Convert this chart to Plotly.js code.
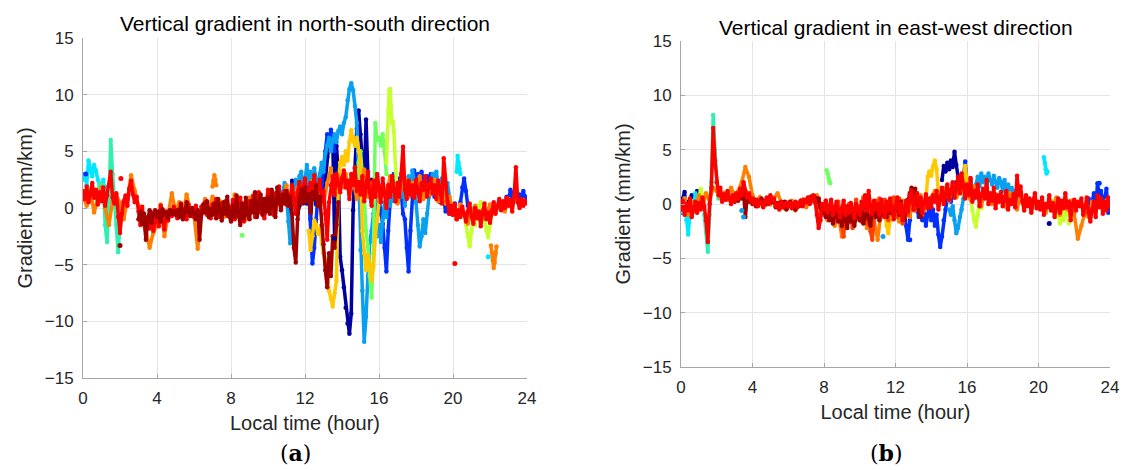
<!DOCTYPE html>
<html>
<head>
<meta charset="utf-8">
<script src="https://cdn.plot.ly/plotly-3.0.1.min.js"></script>
<style>html,body{margin:0;padding:0;background:#fff;}#chart{width:1123px;height:470px;}</style>
</head>
<body>
<div id="chart"></div>
<script>
// ---------- colours (jet colormap, one per day) ----------
const NAVY = '#0000A0', BLUE = '#0030FF', LBLUE = '#0AA0F0', CYAN = '#00E8FF', AQUA = '#30F0B0',
      GREEN = '#70FF60', YGREEN = '#C8FF30', GOLD = '#FFC800', ORANGE = '#FF8000', RORANGE = '#FF4000',
      RED = '#FF0000', DRED = '#A00000';

// ---------- axis ticks ----------
const xTicks = [0, 4, 8, 12, 16, 20, 24];
const yTicks = [-15, -10, -5, 0, 5, 10, 15];

// ================= (a) north-south =================
// red day, 0..24 h every 0.1 h
const nsRedY = [
 1.5,0.8,1.9,0.5,1.2,2.2,0.9,1.6,0.3,1.4,
 0.6,1.8,0.2,1.1,2.0,3.2,0.9,0.4,1.3,-0.8,
 -2.2,-0.5,0.6,1.1,0.2,1.7,2.4,1.2,0.5,1.0,
 -0.3,-1.5,0.1,-1.0,-2.3,-0.8,-1.8,-0.4,-2.0,-1.2,
 -0.5,-1.6,0.2,-0.9,-1.9,-0.3,-1.1,-0.2,-0.7,0.1,
 -0.4,-0.9,-0.2,0.4,-0.6,-0.1,-1.0,0.3,-0.5,-0.2,
 -0.8,0.2,-0.4,-1.5,0.1,-0.3,0.5,-0.6,0.0,-0.9,
 0.3,-0.5,0.8,-0.2,-0.8,0.4,-0.3,0.6,-0.7,0.1,
 -0.4,0.7,-1.0,0.2,-0.6,0.9,-0.3,-1.2,0.4,-0.5,
 0.6,-0.2,1.1,-0.8,0.3,1.4,-0.4,0.8,-0.9,0.5,
 1.6,0.2,1.0,-0.6,1.3,0.4,1.9,0.1,0.9,1.5,
 0.3,1.2,0.6,2.0,0.8,-0.5,1.4,2.3,1.0,1.8,
 2.6,1.2,0.8,2.2,1.5,2.9,1.0,1.8,2.5,0.6,
 1.5,-0.5,-2.8,0.5,2.0,2.8,1.2,3.0,2.2,1.4,
 2.6,3.3,1.8,2.4,0.8,3.0,2.0,3.6,1.5,2.3,
 1.2,2.8,0.6,2.0,3.2,1.4,0.2,2.4,1.0,3.0,
 1.8,0.5,2.6,1.2,0.0,2.0,1.0,2.8,1.5,0.6,
 2.2,1.0,3.0,5.4,1.6,0.8,2.4,1.2,2.0,0.9,
 2.5,1.4,0.6,2.2,1.6,2.8,1.0,1.9,2.6,1.3,
 2.0,0.8,2.4,1.5,0.4,4.4,2.0,0.6,-0.5,0.2,
 -0.6,0.3,-1.0,-0.2,-0.8,0.1,-0.5,-1.2,-0.3,0.4,
 -0.7,-1.4,0.0,-0.9,-0.3,-1.6,-0.5,0.4,-1.0,-0.4,
 -1.3,-0.2,0.5,-0.5,0.2,0.8,-0.2,0.6,0.0,0.9,
 0.2,0.7,-0.3,1.0,3.6,0.5,0.0,0.8,0.2,0.6,
 0.4];
// dark red day, 3.0..13.8 h every 0.1 h
const nsDarkRedY = [
 -1.0,-0.3,-1.4,-0.5,-2.8,-1.0,-0.2,-1.3,-0.6,-0.2,
 -0.8,-0.3,-1.2,-0.1,-0.6,-0.4,-0.9,-0.2,-0.5,-0.3,
 -0.6,-0.2,-0.8,0.3,-1.0,-0.4,0.5,-0.3,-0.7,0.0,
 -0.5,-1.0,-0.2,-2.8,-0.6,0.3,-0.4,0.6,-0.8,-0.1,
 -0.6,0.4,-0.9,0.8,-0.3,-1.1,0.5,-0.5,1.0,-0.7,
 -1.2,0.2,-0.8,1.1,-0.5,-1.5,0.4,-0.9,0.9,-0.6,
 -1.0,0.6,-0.4,1.4,-0.8,0.2,1.2,-0.6,0.8,-0.3,
 0.9,-0.5,1.6,0.3,-0.8,1.8,0.5,-0.2,1.2,0.4,
 1.5,0.2,1.0,-0.5,-3.5,-4.8,-1.0,0.8,1.6,0.4,
 1.8,0.6,1.2,-0.4,1.4,0.8,2.0,0.2,1.0,-1.5,
 -3.2,-5.5,-7.0,-4.0,-6.0,-2.5,-3.5,-1.5,0.5];
// orange day, 0..24 h every 0.2 h
const nsOrangeY = [
 1.0,0.2,1.6,-0.4,0.8,1.8,0.0,-1.5,0.6,1.2,
 0.4,-1.0,0.8,2.9,1.5,0.2,-1.2,-2.0,-3.5,-2.2,
 -1.5,0.3,-2.5,-0.6,1.3,-0.3,0.5,-0.8,1.2,-0.2,
 -0.6,-3.6,-0.4,0.8,-0.2,1.0,-0.5,0.6,-0.8,0.2,
 -0.5,1.2,-0.8,0.4,-1.0,0.9,-0.3,1.1,0.0,-0.6,
 0.8,1.5,-0.2,1.3,0.5,2.0,0.2,1.0,1.8,0.6,
 2.0,0.8,2.4,1.0,1.6,0.3,2.2,3.5,1.2,2.8,
 1.8,3.0,1.2,2.5,0.8,2.0,3.4,1.0,2.2,1.5,
 0.6,2.0,1.2,2.8,1.5,0.4,1.8,2.6,1.0,2.2,
 1.4,2.8,0.8,2.0,1.2,2.5,0.6,1.8,0.4,1.0,
 -0.2,-1.0,0.3,-0.6,-1.4,-0.3,0.2,-0.8,-0.2,-0.5,
 0.3,-0.4,0.0,0.5,-0.3,0.8,0.2,1.0,0.4,0.7,
 0.5];
const nsOrange2Y = [-3.3,-3.9,-4.6,-5.3,-4.8,-4.0,-3.4];           // 22.05.. every 0.05 h
const nsOrange3Y = [1.9,2.4,2.9,2.5,2.0];                           // 7.0.. every 0.05 h
// navy day, 11.0..15.6 h every 0.1 h
const nsNavyY = [
 0.5,1.2,-0.3,2.4,0.8,1.6,-0.5,0.2,2.2,1.0,
 1.8,0.4,2.6,-1.0,1.4,2.0,0.3,2.2,1.0,1.5,
 0.8,2.5,4.5,5.8,6.6,6.0,-2.7,5.5,3.0,-4.3,
 -5.5,-7.0,-8.8,-10.2,-11.1,-9.3,-0.2,3.5,7.0,8.6,
 6.5,4.0,2.0,7.8,3.0,1.0,2.5];
// blue day
const nsBlue1Y = [2.0,3.0,1.5,-2.5,-4.9,-3.5,-1.0,1.2,2.5,1.8,3.5,5.0,6.5,5.8,6.9,6.2,5.0];   // 12.0.. 0.1 h
const nsBlue2Y = [                                                                                 // 15.6.. 0.1 h
 0.5,2.0,1.2,2.8,0.8,-0.5,-1.4,-3.5,-5.6,-2.0,0.5,1.5,3.0,2.0,0.8,2.6,1.4,-0.5,-1.0,-3.5,
 -5.6,-2.0,1.0,3.3,2.5,3.0,2.0,3.2,2.4,1.5,2.8,2.0,3.0,2.2,1.0,2.5,1.8,0.5,1.5,0.8,
 -0.3,0.5,-0.5,0.2,-0.6,0.4];
const nsBlue3Y = [0.5,1.8,2.6,1.5,0.2];                                                           // 20.4.. 0.1 h
const nsBlue4Y = [0.2,1.0,0.5,1.6,0.8,1.3,2.0,0.6,1.2,0.3,1.5,0.8,1.0];                          // 22.8.. 0.1 h
// light-blue day
const nsLBlue1Y = [                                                                                // 10.5.. 0.1 h
 1.0,1.8,0.5,1.4,2.2,
 1.0,-1.2,-3.1,0.5,1.8,2.5,1.2,2.8,3.2,1.5,
 2.5,3.8,2.2,3.2,1.0,3.5,2.6,1.5,3.0,4.0,
 3.2,4.8,5.5,6.2,5.0,6.0,6.5,5.8,6.8,7.2,
 6.5,7.5,8.0,9.5,10.5,11.0,10.4,9.0,7.5,3.0,
 -3.7,-7.3,-11.8,-9.6,-6.0,-3.0,-2.0,-0.5,1.0,-2.5];
const nsLBlue2Y = [                                                                                // 16.0.. 0.1 h
 -1.5,-3.0,-1.0,0.5,-0.8,1.2,0.2,1.8,0.6,1.5,
 0.5,2.0,1.0,2.4,0.2,1.5,2.8,1.2,3.3,2.5,
 0.5,-1.5,-3.4,-2.5,-1.0,-2.2,-0.5,1.0,2.0,3.0,
 2.4,3.2,2.0,1.0,2.6,1.5,0.8,2.2,1.0,0.0];
// cyan day
const nsCyan1Y = [2.5,3.0,2.0,4.2,3.5,2.8,3.8,3.3,2.5,2.0,1.8,2.5,1.2,1.8,1.0];                  // 0.0.. 0.1 h
const nsCyan2Y = [3.2,4.6,4.0,3.5,3.0];                                                            // 20.2.. 0.05 h
// aquamarine day
const nsAquaY = [1.2,2.2,1.5,2.0,-1.5,-3.0,0.5,6.0,3.0,0.5,-1.5,-3.9,-1.5,0.3];                  // 0.8.. 0.1 h
// green day
const nsGreenY = [2.0,4.0,5.0,3.0,1.0,-2.0,-3.4,-6.0,-7.9,-4.0,7.5,6.0,6.2,5.5,6.5,5.0,3.0];     // 14.8.. 0.1 h
// yellow-green day
const nsYGreen1Y = [4.0,6.0,8.5,10.4,10.5,9.0,7.5,7.6,6.8,5.0,3.2,2.0];                           // 16.4.. 0.05 h
const nsYGreen2Y = [-0.5,-1.5,-2.5,-3.4,-2.0,-0.8,-1.5,0.2,-1.0,0.5,-0.3,-1.2,-2.0,-2.6,-1.5,-0.5]; // 20.6.. 0.1 h
// gold day, 12.2..16.0 h every 0.1 h
const nsGoldY = [
 -2.0,-3.7,-2.5,-1.1,-1.5,-2.3,-1.8,-3.0,-4.0,-4.6,
 -5.5,-7.3,-8.0,-8.7,-7.5,-6.4,2.0,4.0,4.5,3.8,
 5.0,4.2,5.8,6.85,6.0,5.5,6.2,5.0,4.0,-2.0,
 -4.0,-5.5,-4.2,-5.0,-6.4,-5.2,-2.5,-1.0,0.5];
// isolated points
const nsDotX = [2.05, 2.0, 20.1, 21.9, 8.6, 13.6, 0.15];
const nsDotY = [2.6, -3.3, -4.9, -4.3, -2.4, -2.7, 3.0];
const nsDotC = [RED, DRED, RED, CYAN, GREEN, NAVY, BLUE];

// ================= (b) east-west =================
const ewRedY = [
 -0.5,0.3,-1.0,0.0,-0.6,0.5,-1.2,-0.3,0.2,-0.8,
 0.1,-0.5,0.6,-0.2,-1.5,-3.5,0.0,1.5,7.0,4.0,
 2.0,0.8,1.5,0.2,0.9,0.4,1.2,0.5,0.0,0.8,
 0.3,1.0,0.5,1.4,0.8,2.0,1.2,0.6,1.0,0.3,
 0.5,0.0,0.4,-0.2,0.3,0.1,-0.3,0.2,0.6,0.0,
 0.8,0.3,0.5,-0.2,0.0,-0.5,0.2,-0.3,-0.1,0.1,
 -0.2,0.1,-0.4,-0.1,0.2,-0.3,0.0,0.3,-0.2,0.4,
 0.2,0.6,0.0,0.5,0.8,0.3,-1.0,-2.2,-1.5,0.0,
 -0.5,0.3,-0.8,-0.2,0.4,-1.0,-0.3,0.2,-0.6,-1.2,
 -0.4,0.3,-1.0,-0.2,-0.8,0.1,-0.5,-1.3,0.0,-0.6,
 -1.0,0.2,-0.4,0.8,-0.6,1.2,-0.2,-0.9,0.3,-0.5,
 0.0,-1.0,0.4,-0.3,-1.2,0.2,-0.6,0.5,-0.4,-1.4,
 -0.2,0.6,-0.8,0.0,-1.5,-0.4,0.3,-0.7,0.8,1.2,
 -0.5,0.3,1.0,-0.2,0.6,-0.8,0.2,0.9,-0.4,0.5,
 -0.3,0.8,0.2,1.2,-0.5,0.6,1.5,0.0,0.9,1.8,
 0.4,1.2,2.0,0.6,1.5,2.5,1.0,2.8,1.6,0.5,
 1.8,0.8,2.4,0.2,1.2,0.6,1.8,-0.2,0.8,1.4,
 0.5,2.2,0.0,1.0,0.3,1.5,-0.4,0.8,0.2,1.1,
 -0.2,0.6,1.2,-0.5,0.4,0.0,0.9,-0.3,2.6,0.8,
 1.6,0.2,-0.6,0.8,-0.2,0.5,-0.8,0.3,1.0,-0.4,
 0.2,-0.5,0.6,-1.0,0.0,-0.3,0.8,-0.6,0.1,-1.2,
 -0.2,0.5,-0.8,0.3,-0.4,1.0,-0.3,0.2,-1.5,0.0,
 0.4,-0.6,0.2,-0.2,0.5,-1.0,-0.4,0.6,-0.8,-1.6,
 -0.5,0.2,-1.2,0.8,-0.3,0.5,-0.9,0.2,-0.6,0.6,
 -0.2];
const ewDarkRedY = [                                                                               // 3.0.. 0.1 h
 0.2,0.8,0.3,1.0,0.5,1.2,-1.2,0.6,0.2,0.5,
 0.0,0.4,-0.2,0.3,0.1,0.5,-0.1,0.3,0.0,0.2,
 0.6,0.2,0.4,-0.3,0.1,-0.4,0.0,-0.2,0.2,-0.5,
 -0.1,0.2,-0.3,0.0,-0.5,0.1,-0.2,0.3,-0.1,0.2,
 0.3,0.5,0.1,0.7,0.4,0.6,0.2,0.5,-0.3,-0.8,
 -0.4,-1.2,-0.6,-1.5,-0.8,-1.8,-1.0,-0.5,-1.6,-1.2,
 -2.0,-0.8,-1.4,-2.2,-1.0,-1.6,-0.6,-2.0,-1.2,-0.9,
 -1.5,-0.4,-1.8,-1.0,-0.5,-1.4,-2.0,-0.8,-0.3,-1.2,
 -0.6,-1.5,-0.2,-1.0,-0.4,-1.2,0.0,-0.8,-0.3,-1.0,
 -0.5,-0.2,-1.0,0.2,-0.6,-1.4,-0.3,0.4,1.0,1.5,
 0.8,1.4,0.2,-0.5,-1.2];
const ewOrangeY = [                                                                                // 0.0.. 0.2 h
 -0.3,0.5,-1.0,0.2,-0.6,0.8,-0.4,1.0,0.3,1.5,
 1.2,0.6,1.0,0.4,1.5,0.8,1.2,2.0,3.4,2.5,
 0.8,0.2,0.6,-0.2,0.4,0.0,0.5,1.0,0.2,-0.4,
 -0.2,0.3,-0.6,0.0,0.4,-0.3,0.6,0.2,0.8,-0.5,
 -0.8,-1.5,-0.4,-2.0,-1.0,-3.0,-1.2,-0.5,-1.8,-0.6,
 -1.4,-0.2,-2.2,-0.8,-1.5,-3.3,-0.6,-1.2,0.2,-1.0,
 -0.4,-1.6,0.3,-0.8,-1.2,0.5,-0.3,0.8,-0.6,0.2,
 0.6,1.2,-0.2,0.8,1.5,0.3,1.8,0.6,1.2,2.0,
 1.0,0.4,1.6,0.8,-0.2,1.2,0.5,0.0,0.9,0.3,
 0.6,-0.3,1.0,0.2,-0.5,0.8,0.0,0.5,-0.6,0.3,
 -0.2,0.4,-0.8,0.2,-0.4,0.6,-1.0,0.0,-0.5,0.3,
 -0.9,-3.2,-2.0,-0.8,-1.2,0.2,-0.4,0.5,-0.2,0.3,
 0.0];
const ewROrangeY = [                                                                               // 7.5.. 0.1 h
 0.2,-0.3,0.5,-0.8,-0.2,
 -1.0,0.3,-0.6,-1.4,0.0,-0.8,-1.6,-0.4,0.2,-1.2,
 -2.0,-3.0,-0.8,-1.5,0.0,-1.0,-2.2,-0.5,0.4,-1.2,
 -0.2,-1.6,0.6,-0.8,-1.8,0.2,-2.5,-3.3,-1.0,0.3,
 -0.6,0.5,-1.2,-0.2,0.4,-0.9,-1.5,0.2,-0.5,0.6,
 -0.3,-1.2,0.5,-0.8,-1.8,-0.4,0.3,-1.0,0.8,1.2,
 0.2,-0.6,1.0,-0.3,0.5,-1.0];
const ewNavy1Y = [-0.8,0.5,1.1,-1.0,0.2,-0.5,0.8,0.0,-0.6,1.2,0.4];                                // 0.0.. 0.1 h
const ewNavy2Y = [2.2,3.5,3.0,3.8,3.2,4.0,3.4,4.8,3.6,2.5];                                        // 14.6.. 0.1 h
const ewBlue1Y = [                                                                                 // 12.5.. 0.1 h
 -1.0,-2.0,-3.3,-1.5,0.5,
 1.2,0.5,-0.3,-1.2,-0.5,-1.5,-0.8,-2.0,-1.0,-0.2,
 -1.5,-0.5,-2.0,-1.0,-2.8,-3.95,-3.0,-1.5,-0.5,0.5,
 1.0,0.2,1.5,0.6,2.0,1.2,2.5,1.0,2.8,3.9,
 2.0,1.0,2.2,0.5,1.5,0.8];
const ewBlue2Y = [0.5,-0.8,0.2,1.0,-0.5,1.9,0.8,1.2,-0.3,0.6,1.4,-0.8,0.2];                      // 22.8.. 0.1 h
const ewLBlueY = [                                                                                 // 15.0.. 0.1 h
 -0.5,-1.0,-0.2,-1.5,-2.7,-2.2,-1.2,-0.5,0.5,1.0,
 1.5,0.8,2.0,1.2,0.5,1.8,2.5,1.6,2.8,2.0,
 2.5,1.6,2.8,2.2,1.8,2.6,2.0,1.5,2.4,2.0,
 1.2,2.2,1.0,1.8,0.5,1.5,0.8,1.2,0.3];
const ewCyan1Y = [0.0,-0.8,0.5,-1.5,-2.8,-1.0,0.3,-0.5,1.0,0.2,-0.3];                              // 0.0.. 0.1 h
const ewCyan2Y = [4.3,3.8,3.2,2.8,3.0];                                                            // 20.3.. 0.05 h
const ewAquaY = [-1.0,-2.5,-4.4,-1.0,2.0,8.2,5.0,2.0,0.5];                                         // 1.3.. 0.1 h
const ewGreenY = [3.1,2.8,2.4,2.0,1.9];                                                            // 8.15.. 0.05 h
const ewYGreen1Y = [0.5,1.4,0.8,-0.5];                                                             // 1.0.. 0.1 h
const ewYGreen2Y = [0.5,-0.6,-1.5,-2.1,-1.0,0.2,-0.4];                                             // 16.2.. 0.1 h
const ewYGreen3Y = [0.3,-0.5,-1.2,0.0,-1.8,-0.8,-1.5,0.2,-1.0,-1.8,-0.6,0.3,-0.4];                // 20.8.. 0.1 h
const ewGold1Y = [-1.0,-2.0,-2.7,-1.5,-0.5];                                                       // 11.4.. 0.1 h
const ewGold2Y = [0.3,2.5,3.0,2.6,3.5,4.0,3.2,1.0,0.3];                                            // 13.7.. 0.1 h
const ewGold3Y = [1.0,2.5,3.5,2.0,1.0];                                                            // 15.7.. 0.1 h
const ewDotX = [20.6, 3.4, 3.5, 11.3, 12.8, 23.4];
const ewDotY = [-1.8, -0.6, -1.2, -3.0, -3.3, 1.9];
const ewDotC = [NAVY, LBLUE, LBLUE, LBLUE, BLUE, BLUE];

// ---------- series tables: [values, start hour, step hour, colour] ----------
const nsSeries = [
  [nsNavyY, 11.0, 0.1, NAVY],
  [nsBlue1Y, 12.0, 0.1, BLUE], [nsBlue2Y, 15.6, 0.1, BLUE], [nsBlue3Y, 20.4, 0.1, BLUE], [nsBlue4Y, 22.8, 0.1, BLUE],
  [nsLBlue1Y, 10.5, 0.1, LBLUE], [nsLBlue2Y, 16.0, 0.1, LBLUE],
  [nsCyan1Y, 0.0, 0.1, CYAN], [nsCyan2Y, 20.2, 0.05, CYAN],
  [nsAquaY, 0.8, 0.1, AQUA],
  [nsGreenY, 14.8, 0.1, GREEN],
  [nsYGreen1Y, 16.4, 0.05, YGREEN], [nsYGreen2Y, 20.6, 0.1, YGREEN],
  [nsGoldY, 12.2, 0.1, GOLD],
  [nsOrangeY, 0.0, 0.2, ORANGE], [nsOrange2Y, 22.05, 0.05, ORANGE], [nsOrange3Y, 7.0, 0.05, ORANGE],
  [nsRedY, 0.0, 0.1, RED],
  [nsDarkRedY, 3.0, 0.1, DRED]
];
const ewSeries = [
  [ewNavy1Y, 0.0, 0.1, NAVY], [ewNavy2Y, 14.6, 0.1, NAVY],
  [ewBlue1Y, 12.5, 0.1, BLUE], [ewBlue2Y, 22.8, 0.1, BLUE],
  [ewLBlueY, 15.0, 0.1, LBLUE],
  [ewCyan1Y, 0.0, 0.1, CYAN], [ewCyan2Y, 20.3, 0.05, CYAN],
  [ewAquaY, 1.3, 0.1, AQUA],
  [ewGreenY, 8.15, 0.05, GREEN],
  [ewYGreen1Y, 1.0, 0.1, YGREEN], [ewYGreen2Y, 16.2, 0.1, YGREEN], [ewYGreen3Y, 20.8, 0.1, YGREEN],
  [ewGold1Y, 11.4, 0.1, GOLD], [ewGold2Y, 13.7, 0.1, GOLD], [ewGold3Y, 15.7, 0.1, GOLD],
  [ewOrangeY, 0.0, 0.2, ORANGE],
  [ewROrangeY, 7.5, 0.1, RORANGE],
  [ewDarkRedY, 3.0, 0.1, DRED],
  [ewRedY, 0.0, 0.1, RED]
];

function mk(s, xa, ya) {
  return {type: 'scatter', mode: 'lines+markers', y: s[0], x0: s[1], dx: s[2],
          line: {color: s[3], width: 3.5}, marker: {color: s[3], size: 4.5},
          xaxis: xa, yaxis: ya, showlegend: false, hoverinfo: 'skip'};
}
const traces = [];
nsSeries.forEach(s => traces.push(mk(s, 'x', 'y')));
traces.push({type: 'scatter', mode: 'markers', x: nsDotX, y: nsDotY, marker: {color: nsDotC, size: 5},
             xaxis: 'x', yaxis: 'y', showlegend: false, hoverinfo: 'skip'});
ewSeries.forEach(s => traces.push(mk(s, 'x2', 'y2')));
traces.push({type: 'scatter', mode: 'markers', x: ewDotX, y: ewDotY, marker: {color: ewDotC, size: 5},
             xaxis: 'x2', yaxis: 'y2', showlegend: false, hoverinfo: 'skip'});

const FONT = '"Liberation Sans", Arial, Helvetica, sans-serif';
function xax(dom, anchor) {
  return {domain: dom, anchor: anchor, range: [0, 24], tickvals: xTicks, showgrid: true, gridcolor: '#E4E4E4',
          showline: true, linecolor: '#A6A6A6', linewidth: 1, ticks: 'inside', ticklen: 4, tickcolor: '#A6A6A6',
          zeroline: false, tickfont: {size: 17, color: '#262626'}, ticklabelstandoff: 5,
          title: {text: 'Local time (hour)', font: {size: 20, color: '#262626'}, standoff: 8}};
}
function yax(dom, anchor) {
  return {domain: dom, anchor: anchor, range: [-15, 15], tickvals: yTicks, showgrid: true, gridcolor: '#E4E4E4',
          showline: true, linecolor: '#A6A6A6', linewidth: 1, ticks: 'inside', ticklen: 4, tickcolor: '#A6A6A6',
          zeroline: false, tickfont: {size: 17, color: '#262626'}, ticklabelstandoff: 5,
          title: {text: 'Gradient (mm/km)', font: {size: 20, color: '#262626'}, standoff: 6}};
}
const SERIF = '"DejaVu Serif", "Liberation Serif", serif';
const layout = {
  width: 1123, height: 470, margin: {l: 0, r: 0, t: 0, b: 0},
  paper_bgcolor: '#ffffff', plot_bgcolor: '#ffffff',
  font: {family: FONT, color: '#262626'},
  xaxis: xax([83/1123, 527/1123], 'y'),
  yaxis: yax([1 - 378/470, 1 - 38/470], 'x'),
  xaxis2: xax([681/1123, 1110/1123], 'y2'),
  yaxis2: yax([1 - 367/470, 1 - 41/470], 'x2'),
  annotations: [
    {text: 'Vertical gradient in north-south direction', xref: 'paper', yref: 'paper', x: 305/1123, y: 1 - 24/470,
     showarrow: false, font: {size: 21, color: '#000'}, xanchor: 'center', yanchor: 'middle'},
    {text: 'Vertical gradient in east-west direction', xref: 'paper', yref: 'paper', x: 895.5/1123, y: 1 - 27/470,
     showarrow: false, font: {size: 21, color: '#000'}, xanchor: 'center', yanchor: 'middle'},
    {text: '(<b>a</b>)', xref: 'paper', yref: 'paper', x: 295/1123, y: 1 - 453/470, showarrow: false,
     font: {size: 22, color: '#000', family: SERIF}, xanchor: 'center', yanchor: 'middle', borderpad: 0},
    {text: '(<b>b</b>)', xref: 'paper', yref: 'paper', x: 886/1123, y: 1 - 453/470, showarrow: false,
     font: {size: 22, color: '#000', family: SERIF}, xanchor: 'center', yanchor: 'middle', borderpad: 0}
  ]
};
Plotly.newPlot('chart', traces, layout, {staticPlot: true, displayModeBar: false});
</script>
</body>
</html>
